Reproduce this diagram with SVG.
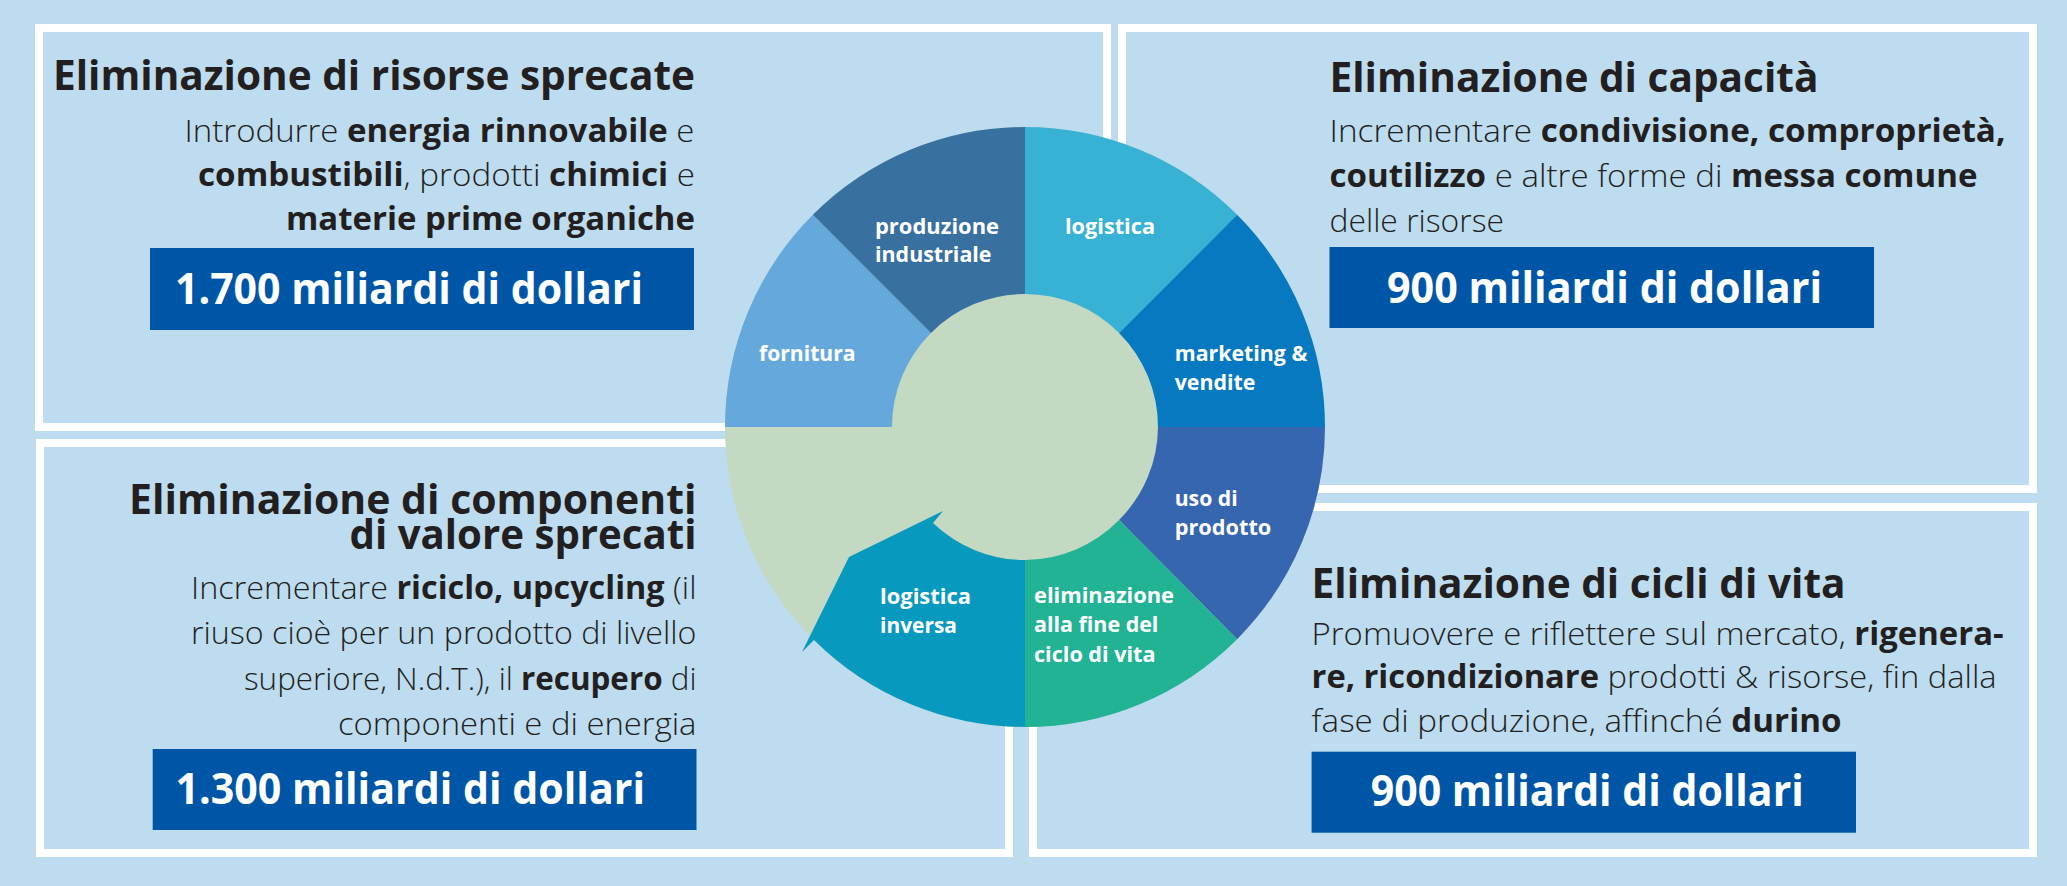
<svg xmlns="http://www.w3.org/2000/svg" width="2067" height="886" viewBox="0 0 2067 886">
<style>
text{font-family:"Open Sans","Liberation Sans",sans-serif}
.t{font-weight:700;font-size:41px;fill:#231F20}
.b{font-weight:300;font-size:32px;fill:#231F20}
.k{font-weight:700}
.box{fill:#0056A6}
.bt{font-weight:700;font-size:43px;fill:#FFFFFF}
.lbl{font-weight:700;font-size:22px;fill:#FFFFFF}
.panel{fill:none;stroke:#FFFFFF;stroke-width:8}
</style>
<rect x="0" y="0" width="2067" height="886" fill="#BDDCEF"/>

<g id="panel-risorse">
<rect class="panel" x="39" y="28" width="1068" height="399"/>
<text class="t" x="53" y="90" textLength="642" lengthAdjust="spacingAndGlyphs">Eliminazione di risorse sprecate</text>
<text class="b"><tspan x="184.5" y="142" textLength="510" lengthAdjust="spacingAndGlyphs">Introdurre <tspan class="k">energia rinnovabile</tspan> e</tspan><tspan x="198" y="186" textLength="497" lengthAdjust="spacingAndGlyphs"><tspan class="k">combustibili</tspan>, prodotti <tspan class="k">chimici</tspan> e</tspan><tspan x="286" y="230" textLength="409" lengthAdjust="spacingAndGlyphs" class="k">materie prime organiche</tspan></text>
<rect class="box" x="150" y="248" width="544" height="82"/>
<text class="bt" x="175" y="304" textLength="468" lengthAdjust="spacingAndGlyphs">1.700 miliardi di dollari</text>
</g>

<g id="panel-capacita">
<rect class="panel" x="1122" y="28" width="911" height="461"/>
<text class="t" x="1329.5" y="92" textLength="489" lengthAdjust="spacingAndGlyphs">Eliminazione di capacità</text>
<text class="b"><tspan x="1329.5" y="142" textLength="676" lengthAdjust="spacingAndGlyphs">Incrementare <tspan class="k">condivisione, comproprietà,</tspan></tspan><tspan x="1329.5" y="187" textLength="648" lengthAdjust="spacingAndGlyphs"><tspan class="k">coutilizzo</tspan> e altre forme di <tspan class="k">messa comune</tspan></tspan><tspan x="1329.5" y="232" textLength="174.5" lengthAdjust="spacingAndGlyphs">delle risorse</tspan></text>
<rect class="box" x="1329.5" y="247" width="544.5" height="81"/>
<text class="bt" x="1387" y="303" textLength="435" lengthAdjust="spacingAndGlyphs">900 miliardi di dollari</text>
</g>

<g id="panel-componenti">
<rect class="panel" x="40" y="443" width="969" height="410"/>
<text class="t"><tspan x="129" y="514" textLength="567.5" lengthAdjust="spacingAndGlyphs">Eliminazione di componenti</tspan><tspan x="349.5" y="549" textLength="347" lengthAdjust="spacingAndGlyphs">di valore sprecati</tspan></text>
<text class="b"><tspan x="191" y="599" textLength="505.5" lengthAdjust="spacingAndGlyphs">Incrementare <tspan class="k">riciclo, upcycling</tspan> (il</tspan><tspan x="191" y="644" textLength="505.5" lengthAdjust="spacingAndGlyphs">riuso cioè per un prodotto di livello</tspan><tspan x="244" y="690" textLength="452.5" lengthAdjust="spacingAndGlyphs">superiore, N.d.T.), il <tspan class="k">recupero</tspan> di</tspan><tspan x="338" y="735" textLength="358.5" lengthAdjust="spacingAndGlyphs">componenti e di energia</tspan></text>
<rect class="box" x="152.7" y="749" width="543.8" height="81"/>
<text class="bt" x="175.5" y="804" textLength="469.5" lengthAdjust="spacingAndGlyphs">1.300 miliardi di dollari</text>
</g>

<g id="panel-cicli">
<rect class="panel" x="1033" y="507" width="1000" height="346"/>
<text class="t" x="1311.6" y="598" textLength="534" lengthAdjust="spacingAndGlyphs">Eliminazione di cicli di vita</text>
<text class="b"><tspan x="1311.6" y="645" textLength="692" lengthAdjust="spacingAndGlyphs">Promuovere e riflettere sul mercato, <tspan class="k">rigenera-</tspan></tspan><tspan x="1311.6" y="688" textLength="685" lengthAdjust="spacingAndGlyphs"><tspan class="k">re, ricondizionare</tspan> prodotti &amp; risorse, fin dalla</tspan><tspan x="1311.6" y="732" textLength="530" lengthAdjust="spacingAndGlyphs">fase di produzione, affinché <tspan class="k">durino</tspan></tspan></text>
<rect class="box" x="1311.6" y="751.7" width="544.4" height="81"/>
<text class="bt" x="1370.8" y="806" textLength="433" lengthAdjust="spacingAndGlyphs">900 miliardi di dollari</text>
</g>

<g id="ciclo">
<circle cx="1025" cy="427" r="300" fill="#C4D9C2"/>
<g id="seg-logistica">
<path d="M1025,294 L1025,127 A300,300 0 0 1 1237.13,214.87 L1119.05,332.95 A133,133 0 0 0 1025,294 Z" fill="#38B2D4"/>
<text class="lbl" x="1065" y="234" textLength="90" lengthAdjust="spacingAndGlyphs">logistica</text>
</g>
<g id="seg-marketing">
<path d="M1119.05,332.95 L1237.13,214.87 A300,300 0 0 1 1325,427 L1158,427 A133,133 0 0 0 1119.05,332.95 Z" fill="#0679C1"/>
<text class="lbl"><tspan x="1174.7" y="361" textLength="132.7" lengthAdjust="spacingAndGlyphs">marketing &amp;</tspan><tspan x="1174.7" y="390" textLength="80.8" lengthAdjust="spacingAndGlyphs">vendite</tspan></text>
</g>
<g id="seg-uso">
<path d="M1158,427 L1325,427 A300,300 0 0 1 1237.13,639.13 L1119.05,520.05 A133,133 0 0 0 1158,427 Z" fill="#3766B0"/>
<text class="lbl"><tspan x="1174.7" y="505.5" textLength="63" lengthAdjust="spacingAndGlyphs">uso di</tspan><tspan x="1174.7" y="535" textLength="96.6" lengthAdjust="spacingAndGlyphs">prodotto</tspan></text>
</g>
<g id="seg-eliminazione">
<path d="M1119.05,520.05 L1237.13,639.13 A300,300 0 0 1 1025,727 L1025,560 A133,133 0 0 0 1119.05,520.05 Z" fill="#22B394"/>
<text class="lbl"><tspan x="1034" y="603" textLength="140" lengthAdjust="spacingAndGlyphs">eliminazione</tspan><tspan x="1034" y="632" textLength="124.4" lengthAdjust="spacingAndGlyphs">alla fine del</tspan><tspan x="1034" y="662" textLength="121.5" lengthAdjust="spacingAndGlyphs">ciclo di vita</tspan></text>
</g>
<g id="seg-logistica-inversa">
<path d="M1025,560 L1025,727 A300,300 0 0 1 814,640 L802,652 L849,557 L943,511 L933,523 A133,133 0 0 0 1025,560 Z" fill="#0899BF"/>
<text class="lbl"><tspan x="880" y="604" textLength="91" lengthAdjust="spacingAndGlyphs">logistica</tspan><tspan x="880" y="633" textLength="77" lengthAdjust="spacingAndGlyphs">inversa</tspan></text>
</g>
<g id="seg-fornitura">
<path d="M892,427 L725,427 A300,300 0 0 1 812.87,214.87 L930.95,332.95 A133,133 0 0 0 892,427 Z" fill="#65A9DC"/>
<text class="lbl" x="759" y="361" textLength="96.5" lengthAdjust="spacingAndGlyphs">fornitura</text>
</g>
<g id="seg-produzione">
<path d="M930.95,332.95 L812.87,214.87 A300,300 0 0 1 1025,127 L1025,294 A133,133 0 0 0 930.95,332.95 Z" fill="#38719F"/>
<text class="lbl"><tspan x="875" y="234" textLength="124" lengthAdjust="spacingAndGlyphs">produzione</tspan><tspan x="875" y="262" textLength="116.5" lengthAdjust="spacingAndGlyphs">industriale</tspan></text>
</g>
</g>
<g id="connectors"/>
</svg>
